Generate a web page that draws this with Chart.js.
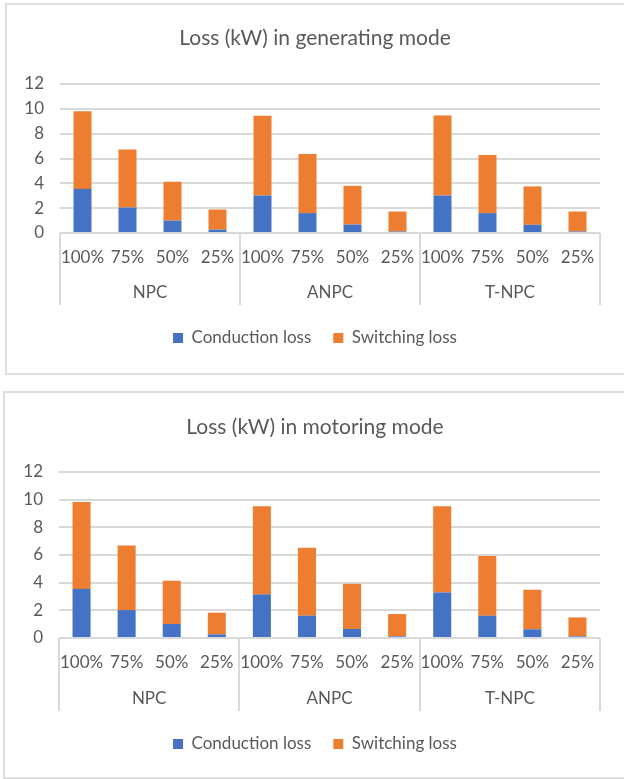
<!DOCTYPE html>
<html>
<head>
<meta charset="utf-8">
<script src="https://cdn.jsdelivr.net/npm/chart.js@4.4.0/dist/chart.umd.min.js"></script>
<style>
  html, body { margin: 0; padding: 0; background: #fff; width: 624px; height: 779px; overflow: hidden; }
  .frame { position: absolute; border: 2px solid #dedede; box-sizing: border-box; }
  .holder { position: absolute; }
</style>
</head>
<body>
<div class="frame" style="left:5px; top:3px; width:700px; height:372px;"></div>
<div class="frame" style="left:3px; top:391px; width:700px; height:388px;"></div>
<div class="holder" style="left:6px; top:6px; width:618px; height:366px;"><canvas id="genChart"></canvas></div>
<div class="holder" style="left:5px; top:393px; width:620px; height:383px;"><canvas id="motChart"></canvas></div>
<script>
// Load levels inside each converter topology
const loadLevels = ['100%', '75%', '50%', '25%'];
const topologies = ['NPC', 'ANPC', 'T-NPC'];
const categoryLabels = [
  '100%', '75%', '50%', '25%',
  '100%', '75%', '50%', '25%',
  '100%', '75%', '50%', '25%'
];
const seriesNames = ['Conduction loss', 'Switching loss'];
const yTicks = [0, 2, 4, 6, 8, 10, 12];

// Generating mode losses (kW)
const genConduction = [3.55, 2.05, 1.00, 0.27, 3.02, 1.60, 0.68, 0.12, 3.02, 1.60, 0.66, 0.12];
const genSwitching  = [6.25, 4.67, 3.13, 1.62, 6.42, 4.77, 3.12, 1.61, 6.45, 4.68, 3.09, 1.61];

// Motoring mode losses (kW)
const motConduction = [3.55, 2.02, 1.01, 0.26, 3.15, 1.61, 0.65, 0.12, 3.29, 1.61, 0.63, 0.12];
const motSwitching  = [6.29, 4.67, 3.13, 1.57, 6.38, 4.91, 3.27, 1.61, 6.24, 4.31, 2.86, 1.37];

const TEXT = '#595959';
const GRID = '#d9d9d9';
const FONT = 'Lato, "Open Sans", sans-serif';
const LABEL_SIZE = 17;

// Draws the second category level (topology names) with its divider lines
const groupAxisPlugin = {
  id: 'groupAxis',
  afterDraw(chart, args, opts) {
    const x = chart.scales.x;
    const area = chart.chartArea;
    const ctx = chart.ctx;
    const per = loadLevels.length;
    const step = x.getPixelForValue(1) - x.getPixelForValue(0);
    ctx.save();
    ctx.strokeStyle = GRID;
    ctx.lineWidth = 2;
    for (let g = 0; g <= topologies.length; g++) {
      const px = Math.round(x.getPixelForValue(g * per) - step / 2);
      ctx.beginPath();
      ctx.moveTo(px, area.bottom);
      ctx.lineTo(px, area.bottom + opts.lineDepth);
      ctx.stroke();
    }
    ctx.fillStyle = TEXT;
    ctx.font = LABEL_SIZE + 'px ' + FONT;
    ctx.textAlign = 'center';
    ctx.textBaseline = 'middle';
    topologies.forEach((name, g) => {
      const first = x.getPixelForValue(g * per);
      const last = x.getPixelForValue(g * per + per - 1);
      ctx.fillText(name, (first + last) / 2, area.bottom + opts.labelOffset);
    });
    ctx.restore();
  }
};

function buildChart(id, titleText, conduction, switching, geo) {
  return new Chart(document.getElementById(id), {
    type: 'bar',
    data: {
      labels: categoryLabels,
      datasets: [
        { label: seriesNames[0], data: conduction, backgroundColor: '#4472C4', yAxisID: 'y' },
        { label: seriesNames[1], data: switching, backgroundColor: '#ED7D31', yAxisID: 'y' }
      ]
    },
    plugins: [groupAxisPlugin],
    options: {
      responsive: true,
      maintainAspectRatio: false,
      animation: false,
      categoryPercentage: 1,
      barPercentage: 0.4,
      layout: { padding: { top: 0, left: 0, right: 0, bottom: geo.padBottom } },
      plugins: {
        title: {
          display: true,
          text: titleText,
          color: TEXT,
          font: { family: FONT, size: 21, weight: 'normal', lineHeight: 1.2 },
          padding: { top: geo.titleTop, bottom: geo.titleBottom }
        },
        legend: {
          position: 'bottom',
          labels: {
            color: TEXT,
            font: { family: FONT, size: LABEL_SIZE },
            boxWidth: 10,
            boxHeight: 10,
            padding: 22
          }
        },
        tooltip: { enabled: false },
        groupAxis: { lineDepth: geo.lineDepth, labelOffset: geo.groupOffset }
      },
      scales: {
        x: {
          stacked: true,
          grid: { display: false, drawTicks: false },
          border: { display: false },
          ticks: {
            color: TEXT,
            font: { family: FONT, size: LABEL_SIZE },
            padding: geo.tickPad,
            maxRotation: 0,
            autoSkip: false
          },
          afterFit(scale) { scale.height = geo.xHeight; }
        },
        y: {
          stacked: true,
          min: 0,
          max: 12,
          afterBuildTicks(scale) { scale.ticks = yTicks.map(v => ({ value: v })); },
          grid: { color: GRID, lineWidth: 2, drawTicks: false },
          border: { display: false },
          ticks: {
            color: TEXT,
            font: { family: FONT, size: LABEL_SIZE },
            padding: 16
          },
          afterFit(scale) { scale.width = geo.yWidth; }
        },
        // empty spacer on the right so the plot ends before the frame edge
        yPad: {
          position: 'right',
          display: true,
          grid: { display: false, drawTicks: false },
          border: { display: false },
          ticks: { display: false },
          afterFit(scale) { scale.width = geo.rightGap; }
        }
      }
    }
  });
}

buildChart('genChart', 'Loss (kW) in generating mode', genConduction, genSwitching, {
  padBottom: 15.5, titleTop: 19.4, titleBottom: 33.4,
  xHeight: 74.5, tickPad: 14, lineDepth: 72, groupOffset: 60, yWidth: 54, rightGap: 24
});
buildChart('motChart', 'Loss (kW) in motoring mode', motConduction, motSwitching, {
  padBottom: 13.5, titleTop: 21.4, titleBottom: 32.4,
  xHeight: 75.5, tickPad: 14, lineDepth: 73, groupOffset: 61, yWidth: 54, rightGap: 25
});
</script>
</body>
</html>
